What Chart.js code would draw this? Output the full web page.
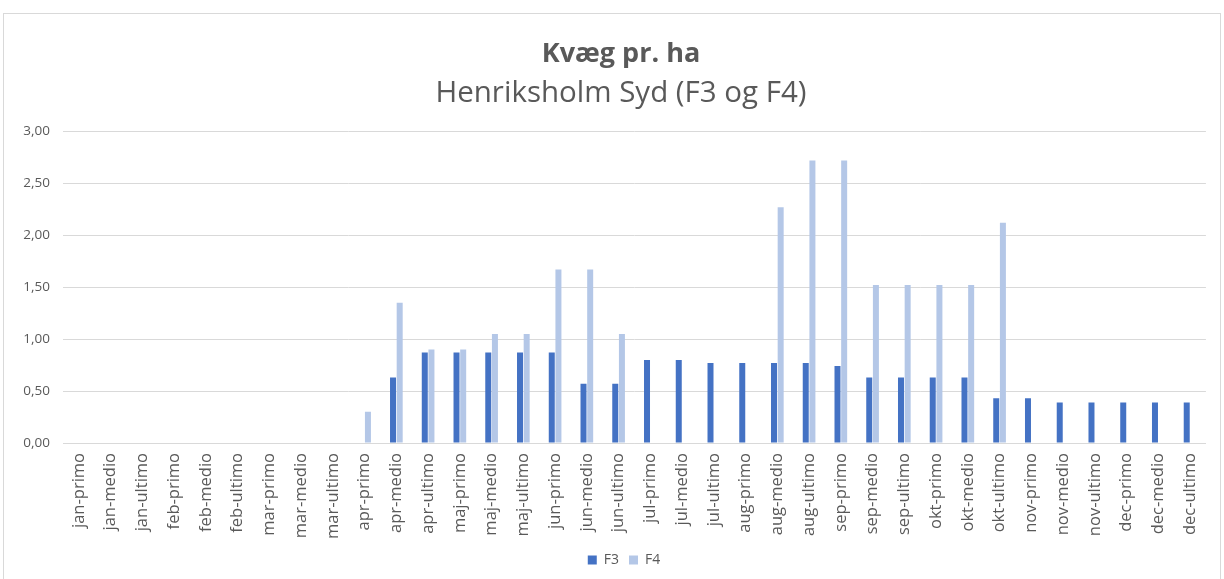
<!DOCTYPE html>
<html>
<head>
<meta charset="utf-8">
<script src="https://cdn.jsdelivr.net/npm/chart.js@4/dist/chart.umd.min.js"></script>
<style>
  html, body { margin: 0; padding: 0; background: #fff; overflow: hidden; }
  #wrap { position: absolute; left: 3px; top: 13px; width: 1218px; height: 572px; border: 1px solid #d9d9d9; box-sizing: border-box; }
  canvas { display: block; }
</style>
</head>
<body>
<div id="wrap"><canvas id="c"></canvas></div>
<script>
const categories = [
  "jan-primo","jan-medio","jan-ultimo","feb-primo","feb-medio","feb-ultimo",
  "mar-primo","mar-medio","mar-ultimo","apr-primo","apr-medio","apr-ultimo",
  "maj-primo","maj-medio","maj-ultimo","jun-primo","jun-medio","jun-ultimo",
  "jul-primo","jul-medio","jul-ultimo","aug-primo","aug-medio","aug-ultimo",
  "sep-primo","sep-medio","sep-ultimo","okt-primo","okt-medio","okt-ultimo",
  "nov-primo","nov-medio","nov-ultimo","dec-primo","dec-medio","dec-ultimo"
];
const f3Values = [
  0,0,0,0,0,0,
  0,0,0,0,0.63,0.87,
  0.87,0.87,0.87,0.87,0.57,0.57,
  0.80,0.80,0.77,0.77,0.77,0.77,
  0.74,0.63,0.63,0.63,0.63,0.43,
  0.43,0.39,0.39,0.39,0.39,0.39
];
const f4Values = [
  0,0,0,0,0,0,
  0,0,0,0.30,1.35,0.90,
  0.90,1.05,1.05,1.67,1.67,1.05,
  0,0,0,0,2.27,2.72,
  2.72,1.52,1.52,1.52,1.52,2.12,
  0,0,0,0,0,0
];
const yTicks = [0, 0.5, 1.0, 1.5, 2.0, 2.5, 3.0];
const titleText = "Kvæg pr. ha";
const subtitleText = "Henriksholm Syd (F3 og F4)";

const FONT = "'Open Sans', Lato, sans-serif";
const cv = document.getElementById('c');
cv.width = 1216; cv.height = 570;
cv.style.width = '1216px'; cv.style.height = '570px';

const shiftBoxes = {
  id: 'shiftBoxes',
  afterLayout(chart) {
    chart.boxes.forEach(b => {
      const isTitle = b.options && (b.options.text === titleText || b.options.text === subtitleText);
      if (isTitle) { b.left += 14; b.right += 14; }
      if (b === chart.legend) { b.left += 17; b.right += 17; }
    });
  }
};

new Chart(cv, {
  type: 'bar',
  data: {
    labels: categories,
    datasets: [
      { label: 'F3', data: f3Values, backgroundColor: '#4472c4', borderWidth: 0,
        categoryPercentage: 0.42, barPercentage: 0.9 },
      { label: 'F4', data: f4Values, backgroundColor: '#b4c7e7', borderWidth: 0,
        categoryPercentage: 0.42, barPercentage: 0.9 }
    ]
  },
  options: {
    responsive: false,
    animation: false,
    layout: { padding: { left: 0, right: 10, top: 18, bottom: 7 } },
    plugins: {
      title: { display: true, text: titleText, color: '#595959',
        font: { family: FONT, size: 27, weight: 'bold' }, padding: { top: 6, bottom: 1 } },
      subtitle: { display: true, text: subtitleText, color: '#595959',
        font: { family: FONT, size: 29.5, weight: 'normal' }, padding: { top: 4, bottom: 20.5 } },
      legend: { position: 'bottom', labels: { color: '#595959', boxWidth: 9, boxHeight: 9,
        font: { family: FONT, size: 14 }, padding: 10 } },
      tooltip: { enabled: false }
    },
    scales: {
      x: {
        grid: { display: false, drawTicks: false },
        border: { display: true, color: '#d9d9d9' },
        ticks: { color: '#595959', font: { family: FONT, size: 16.5 }, minRotation: 90, maxRotation: 90, autoSkip: false, padding: 10 },
        afterFit: (s) => { s.height = 100; }
      },
      y: {
        min: 0, max: 3,
        afterBuildTicks: (ax) => { ax.ticks = yTicks.map(v => ({ value: v })); },
        grid: { color: '#d9d9d9', drawTicks: false },
        border: { display: false },
        ticks: { color: '#595959', font: { family: FONT, size: 13.5 }, padding: 13,
          callback: (v) => Number(v).toFixed(2).replace('.', ',') },
        afterFit: (s) => { s.width = 59; }
      }
    }
  },
  plugins: [shiftBoxes]
});
</script>
</body>
</html>
